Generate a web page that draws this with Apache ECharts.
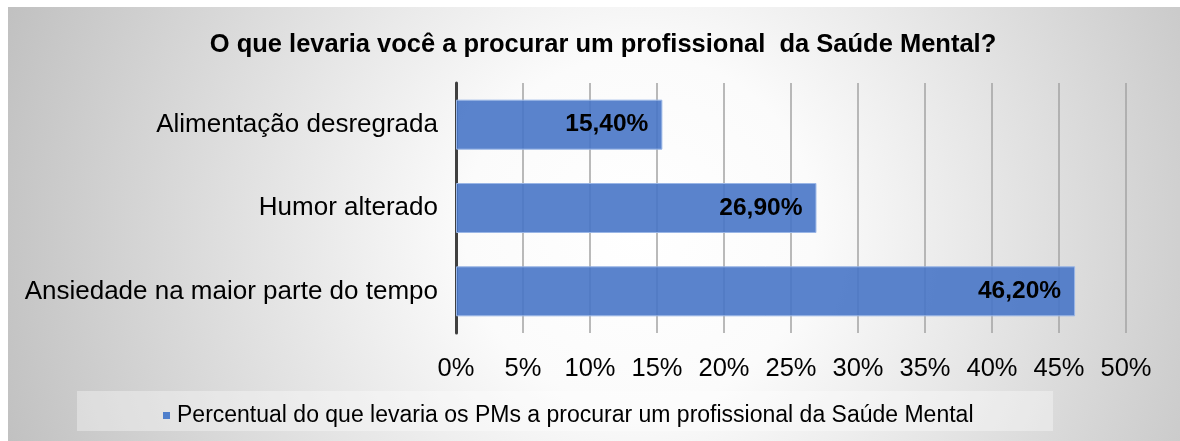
<!DOCTYPE html>
<html>
<head>
<meta charset="utf-8">
<script src="https://cdn.jsdelivr.net/npm/echarts@6/dist/echarts.min.js"></script>
<style>
html,body{margin:0;padding:0;background:#fff;}
#c{width:1180px;height:441px;}
</style>
</head>
<body>
<div id="c"></div>
<script>
const titleText = 'O que levaria você a procurar um profissional  da Saúde Mental?';
const categories = ['Alimentação desregrada', 'Humor alterado', 'Ansiedade na maior parte do tempo'];
const values = [15.4, 26.9, 46.2];
const seriesName = 'Percentual do que levaria os PMs a procurar um profissional da Saúde Mental';
const axisMin = 0, axisMax = 50, axisStep = 5;

const FONT = '"Liberation Sans", Arial, sans-serif';
const chart = echarts.init(document.getElementById('c'), null, {renderer: 'canvas'});
chart.setOption({
  backgroundColor: '#ffffff',
  animation: false,
  graphic: [
    {
      type: 'rect', z: -10, silent: true,
      shape: {x: 8, y: 7, width: 1172, height: 434},
      style: {
        fill: {
          type: 'radial', global: true, x: 640, y: 230, r: 700,
          colorStops: [
            {offset: 0, color: '#ffffff'},
            {offset: 0.25, color: '#fbfbfb'},
            {offset: 1, color: '#bdbdbd'}
          ]
        }
      }
    },
    {
      type: 'rect', z: -5, silent: true,
      shape: {x: 77, y: 391, width: 976, height: 40},
      style: {fill: 'rgba(255,255,255,0.35)'}
    }
  ],
  title: {
    text: titleText,
    left: 598, top: 27, textAlign: 'center',
    textStyle: {fontFamily: FONT, fontWeight: 'bold', fontSize: 25.5, color: '#000'}
  },
  legend: {
    data: [seriesName],
    left: 158, top: 399,
    icon: 'rect', itemWidth: 7, itemHeight: 7,
    itemStyle: {borderWidth: 0, color: '#4f7fcb'},
    textStyle: {fontFamily: FONT, fontSize: 23, color: '#000', padding: [0, 0, 0, 2]}
  },
  grid: {left: 456, right: 54, top: 83, bottom: 108, containLabel: false},
  xAxis: {
    type: 'value', min: axisMin, max: axisMax, interval: axisStep,
    axisLine: {show: false}, axisTick: {show: false},
    axisLabel: {formatter: v => v + '%', fontFamily: FONT, fontSize: 25.5, color: '#000', margin: 23},
    splitLine: {show: true, lineStyle: {color: '#a3a3a3', width: 1.5}}
  },
  yAxis: {
    type: 'category', data: categories, inverse: true,
    axisLine: {show: true, lineStyle: {color: '#404040', width: 3}},
    axisTick: {show: false},
    axisLabel: {fontFamily: FONT, fontSize: 26, color: '#000', margin: 18}
  },
  series: [{
    name: seriesName, type: 'bar', data: values, barWidth: '60%',
    itemStyle: {color: 'rgba(72,118,199,0.9)', borderColor: '#9ab6e6', borderWidth: 1},
    label: {
      show: true, position: 'insideRight', distance: 14,
      formatter: p => p.value.toFixed(2).replace('.', ',') + '%',
      fontFamily: FONT, fontWeight: 'bold', fontSize: 24.5, color: '#000'
    }
  }]
});
</script>
</body>
</html>
